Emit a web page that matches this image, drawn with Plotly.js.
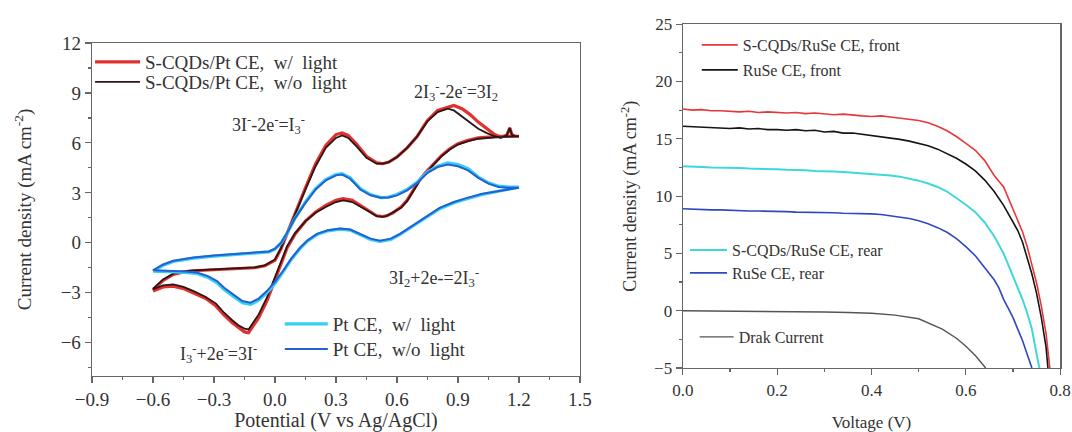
<!DOCTYPE html>
<html><head><meta charset="utf-8">
<script src="https://cdn.plot.ly/plotly-3.0.1.min.js"></script>
<style>html,body{margin:0;padding:0;background:#fff}#chart{width:1072px;height:432px}</style>
</head><body><div id="chart"></div>
<script>
// ---------- Left panel: cyclic voltammetry ----------
const cvS_V_up = [-0.6,-0.55,-0.5,-0.45,-0.4,-0.3,-0.2,-0.1,-0.05,0,0.03,0.07,0.1,0.15,0.2,0.25,0.3,0.33,0.36,0.4,0.45,0.5,0.53,0.56,0.6,0.65,0.7,0.75,0.8,0.85,0.88,0.92,0.96,1.0,1.04,1.08,1.11,1.14,1.155,1.165,1.18,1.2];
const cvS_V_lo = [1.2,1.1,1.0,0.95,0.9,0.86,0.82,0.78,0.74,0.71,0.68,0.65,0.62,0.58,0.55,0.53,0.5,0.46,0.42,0.38,0.335,0.3,0.25,0.2,0.15,0.1,0.06,0.025,0,-0.04,-0.08,-0.11,-0.13,-0.15,-0.18,-0.21,-0.25,-0.29,-0.34,-0.4,-0.45,-0.5,-0.55,-0.6];
const cvSlight_J_up = [-2.85,-2.25,-1.9,-1.75,-1.68,-1.62,-1.57,-1.5,-1.38,-1.05,-0.35,0.9,1.75,3.3,4.75,5.85,6.5,6.6,6.45,5.95,5.2,4.8,4.75,4.85,5.15,5.7,6.4,7.35,7.95,8.15,8.25,8.05,7.7,7.25,6.85,6.5,6.35,6.45,6.9,6.5,6.4,6.4];
const cvSlight_J_lo = [6.4,6.4,6.3,6.15,5.95,5.65,5.25,4.75,4.2,3.75,3.15,2.55,2.15,1.8,1.62,1.58,1.62,1.92,2.25,2.55,2.65,2.55,2.25,1.85,1.3,0.55,-0.3,-1.4,-2.2,-3.5,-4.5,-5.05,-5.4,-5.35,-5.1,-4.8,-4.35,-3.8,-3.35,-3.0,-2.75,-2.6,-2.65,-2.9];
const cvSdark_J_up = [-2.75,-2.2,-1.85,-1.72,-1.66,-1.6,-1.55,-1.48,-1.35,-1.0,-0.3,0.9,1.7,3.2,4.6,5.7,6.3,6.45,6.3,5.8,5.1,4.75,4.75,4.85,5.15,5.7,6.4,7.3,7.85,8.05,7.95,7.6,7.2,6.85,6.6,6.4,6.3,6.45,6.9,6.5,6.4,6.4];
const cvSdark_J_lo = [6.4,6.35,6.25,6.1,5.9,5.6,5.2,4.7,4.15,3.7,3.1,2.5,2.1,1.8,1.62,1.56,1.6,1.9,2.2,2.45,2.55,2.45,2.15,1.8,1.3,0.6,-0.2,-1.26,-2.0,-3.3,-4.3,-4.85,-5.2,-5.15,-4.95,-4.65,-4.2,-3.65,-3.25,-2.9,-2.65,-2.5,-2.55,-2.8];

const cvPt_V_up = [-0.6,-0.55,-0.5,-0.4,-0.3,-0.2,-0.1,-0.03,0.0,0.03,0.06,0.1,0.15,0.2,0.25,0.3,0.33,0.37,0.42,0.47,0.52,0.56,0.6,0.65,0.7,0.75,0.8,0.85,0.9,0.95,1.0,1.05,1.1,1.15,1.2];
const cvPt_V_lo = [1.2,1.15,1.09,1.02,0.945,0.88,0.81,0.76,0.71,0.66,0.615,0.57,0.517,0.47,0.42,0.37,0.32,0.26,0.207,0.16,0.123,0.08,0.04,0.0,-0.04,-0.08,-0.12,-0.16,-0.206,-0.25,-0.285,-0.33,-0.38,-0.44,-0.5,-0.55,-0.6];
const cvPtlight_J_up = [-1.7,-1.35,-1.12,-0.92,-0.8,-0.72,-0.64,-0.55,-0.38,-0.02,0.58,1.5,2.45,3.25,3.8,4.1,4.15,3.9,3.25,2.9,2.72,2.75,2.9,3.2,3.65,4.25,4.6,4.8,4.7,4.45,3.95,3.6,3.4,3.35,3.35];
const cvPtlight_J_lo = [3.35,3.22,3.1,2.9,2.65,2.4,2.05,1.65,1.25,0.85,0.5,0.2,0.08,0.2,0.5,0.76,0.82,0.72,0.5,0.1,-0.35,-1.0,-1.75,-2.45,-3.0,-3.45,-3.7,-3.6,-3.2,-2.8,-2.4,-2.08,-1.86,-1.78,-1.75,-1.72,-1.7];
const cvPtdark_J_up = [-1.65,-1.3,-1.08,-0.88,-0.76,-0.68,-0.6,-0.52,-0.35,0.0,0.6,1.5,2.4,3.2,3.75,4.05,4.1,3.85,3.2,2.85,2.7,2.72,2.85,3.15,3.6,4.2,4.55,4.7,4.6,4.35,3.9,3.55,3.35,3.3,3.3];
const cvPtdark_J_lo = [3.3,3.2,3.1,2.95,2.7,2.45,2.1,1.7,1.3,0.9,0.54,0.25,0.12,0.25,0.54,0.8,0.86,0.75,0.54,0.15,-0.3,-0.95,-1.68,-2.35,-2.9,-3.35,-3.6,-3.5,-3.1,-2.7,-2.3,-2.0,-1.8,-1.72,-1.7,-1.68,-1.65];

const cvNames = ["S-CQDs/Pt CE,&nbsp; w/&nbsp; light", "S-CQDs/Pt CE,&nbsp; w/o&nbsp; light", "Pt CE,&nbsp; w/&nbsp; light", "Pt CE,&nbsp; w/o&nbsp; light"];
const cvLabels = ["3I<sup>-</sup>-2e<sup>-</sup>=I<sub>3</sub><sup>-</sup>", "2I<sub>3</sub><sup>-</sup>-2e<sup>-</sup>=3I<sub>2</sub>", "3I<sub>2</sub>+2e-=2I<sub>3</sub><sup>-</sup>", "I<sub>3</sub><sup>-</sup>+2e<sup>-</sup>=3I<sup>-</sup>"];
const cvLabelX = [-0.03, 0.89, 0.78, -0.28];
const cvLabelY = [7.1, 9.1, -2.1, -6.65];

// ---------- Right panel: J-V curves ----------
const jvRed_V = [0,0.02,0.04,0.06,0.08,0.1,0.12,0.14,0.16,0.18,0.2,0.22,0.24,0.26,0.28,0.3,0.32,0.34,0.36,0.38,0.4,0.42,0.44,0.46,0.48,0.5,0.52,0.54,0.56,0.58,0.6,0.62,0.64,0.66,0.68,0.7,0.71,0.72,0.73,0.74,0.75,0.76,0.77,0.778];
const jvRed_J = [17.6,17.5,17.55,17.45,17.45,17.4,17.35,17.4,17.3,17.35,17.3,17.25,17.3,17.2,17.25,17.2,17.1,17.15,17.05,17.0,16.95,17.0,16.9,16.8,16.75,16.6,16.4,16.1,15.7,15.2,14.6,14.0,13.1,11.8,10.8,8.9,7.9,6.9,5.6,4.1,2.4,0.4,-2.0,-5.0];
const jvBlack_V = [0,0.02,0.04,0.06,0.08,0.1,0.12,0.14,0.16,0.18,0.2,0.22,0.24,0.26,0.28,0.3,0.32,0.34,0.36,0.38,0.4,0.42,0.44,0.46,0.48,0.5,0.52,0.54,0.56,0.58,0.6,0.62,0.64,0.66,0.68,0.7,0.71,0.72,0.73,0.74,0.75,0.76,0.77,0.774];
const jvBlack_J = [16.1,16.05,16.0,16.0,15.95,15.9,15.95,15.85,15.9,15.8,15.8,15.75,15.8,15.7,15.75,15.6,15.65,15.5,15.5,15.4,15.3,15.2,15.1,14.95,14.8,14.6,14.4,14.1,13.7,13.3,12.8,12.2,11.4,10.4,9.2,7.8,7.0,6.0,4.7,3.2,1.5,-0.6,-3.2,-5.0];
const jvCyan_V = [0,0.02,0.04,0.06,0.08,0.1,0.12,0.14,0.16,0.18,0.2,0.22,0.24,0.26,0.28,0.3,0.32,0.34,0.36,0.38,0.4,0.42,0.44,0.46,0.48,0.5,0.52,0.54,0.56,0.58,0.6,0.62,0.64,0.66,0.68,0.69,0.7,0.71,0.72,0.73,0.74,0.75,0.756];
const jvCyan_J = [12.6,12.6,12.55,12.5,12.5,12.45,12.45,12.4,12.4,12.35,12.35,12.3,12.3,12.25,12.2,12.2,12.15,12.1,12.05,12.0,11.95,11.9,11.8,11.7,11.55,11.35,11.1,10.8,10.4,9.85,9.25,8.6,7.7,6.5,5.0,4.0,3.0,2.0,1.0,-0.2,-1.6,-3.8,-5.0];
const jvBlue_V = [0,0.02,0.04,0.06,0.08,0.1,0.12,0.14,0.16,0.18,0.2,0.22,0.24,0.26,0.28,0.3,0.32,0.34,0.36,0.38,0.4,0.42,0.44,0.46,0.48,0.5,0.52,0.54,0.56,0.58,0.6,0.62,0.64,0.65,0.66,0.67,0.68,0.69,0.7,0.71,0.72,0.73,0.74];
const jvBlue_J = [8.9,8.85,8.85,8.8,8.8,8.75,8.75,8.7,8.7,8.7,8.65,8.65,8.6,8.6,8.6,8.55,8.55,8.5,8.5,8.5,8.45,8.4,8.3,8.2,8.05,7.85,7.6,7.25,6.85,6.3,5.6,4.8,3.8,3.3,2.7,2.0,1.0,0.2,-0.6,-1.6,-2.6,-3.8,-5.0];
const jvDark_V = [0,0.05,0.1,0.15,0.2,0.25,0.3,0.35,0.4,0.45,0.5,0.55,0.58,0.6,0.62,0.642];
const jvDark_J = [0,-0.01,-0.02,-0.04,-0.06,-0.08,-0.11,-0.15,-0.22,-0.38,-0.7,-1.6,-2.4,-3.1,-3.9,-5.0];
const jvNames = ["S-CQDs/RuSe CE, front", "RuSe CE, front", "S-CQDs/RuSe CE, rear", "RuSe CE, rear", "Drak Current"];

// ---------- traces ----------
const traces = [
  {x: cvS_V_up.concat(cvS_V_lo), y: cvSlight_J_up.concat(cvSlight_J_lo), name: cvNames[0], legend: 'legend', mode: 'lines', line: {color: '#e0312f', width: 3.2}, xaxis: 'x', yaxis: 'y'},
  {x: cvS_V_up.concat(cvS_V_lo), y: cvSdark_J_up.concat(cvSdark_J_lo), name: cvNames[1], legend: 'legend2', mode: 'lines', line: {color: '#2a1616', width: 1.8}, xaxis: 'x', yaxis: 'y'},
  {x: cvPt_V_up.concat(cvPt_V_lo), y: cvPtlight_J_up.concat(cvPtlight_J_lo), name: cvNames[2], legend: 'legend3', mode: 'lines', line: {color: '#33d0f2', width: 3.2}, xaxis: 'x', yaxis: 'y'},
  {x: cvPt_V_up.concat(cvPt_V_lo), y: cvPtdark_J_up.concat(cvPtdark_J_lo), name: cvNames[3], legend: 'legend4', mode: 'lines', line: {color: '#2460d4', width: 2}, xaxis: 'x', yaxis: 'y'},
  {x: jvRed_V, y: jvRed_J, name: jvNames[0], legend: 'legend5', mode: 'lines', line: {color: '#e8373a', width: 1.6}, xaxis: 'x2', yaxis: 'y2'},
  {x: jvBlack_V, y: jvBlack_J, name: jvNames[1], legend: 'legend6', mode: 'lines', line: {color: '#151515', width: 1.6}, xaxis: 'x2', yaxis: 'y2'},
  {x: jvCyan_V, y: jvCyan_J, name: jvNames[2], legend: 'legend7', mode: 'lines', line: {color: '#3fd8d8', width: 2}, xaxis: 'x2', yaxis: 'y2'},
  {x: jvBlue_V, y: jvBlue_J, name: jvNames[3], legend: 'legend8', mode: 'lines', line: {color: '#2f47c2', width: 1.6}, xaxis: 'x2', yaxis: 'y2'},
  {x: jvDark_V, y: jvDark_J, name: jvNames[4], legend: 'legend9', mode: 'lines', line: {color: '#555555', width: 1.4}, xaxis: 'x2', yaxis: 'y2'}
];

const axCommon = {
  showline: true, linecolor: '#666', linewidth: 1.3, mirror: true,
  ticks: 'outside', ticklen: 6, tickwidth: 1.2, tickcolor: '#666',
  showgrid: false, zeroline: false, automargin: false
};
function leg(x, y, size, iw) {
  return {x: x, y: y, xanchor: 'left', yanchor: 'middle', bgcolor: 'rgba(0,0,0,0)', borderwidth: 0,
          font: {size: size, color: '#333'}, itemwidth: iw, tracegroupgap: 0};
}

const annotations = cvLabels.map((t, i) => ({
  text: t, x: cvLabelX[i], y: cvLabelY[i], xref: 'x', yref: 'y', showarrow: false,
  font: {size: 18, color: '#333'}
}));

const layout = {
  width: 1072, height: 432,
  margin: {l: 0, r: 0, t: 0, b: 0},
  paper_bgcolor: '#fff', plot_bgcolor: '#fff',
  font: {family: 'Liberation Serif, Times New Roman, serif', color: '#333'},
  showlegend: true,
  xaxis: Object.assign({}, axCommon, {
    domain: [0.0858, 0.541], range: [-0.9, 1.5], tick0: 0, dtick: 0.3, tickformat: '.1f',
    minor: {dtick: 0.15, ticks: 'outside', ticklen: 3, tickcolor: '#666'},
    tickfont: {size: 19}, anchor: 'y',
    title: {text: 'Potential (V vs Ag/AgCl)', font: {size: 20}, standoff: 19}
  }),
  yaxis: Object.assign({}, axCommon, {
    domain: [0.1296, 0.9005], range: [-8, 12], tick0: 0, dtick: 3,
    minor: {dtick: 1.5, ticks: 'outside', ticklen: 3, tickcolor: '#666'},
    tickfont: {size: 19}, anchor: 'x',
    title: {text: 'Current density (mA cm<sup>-2</sup>)', font: {size: 19}, standoff: 24}
  }),
  xaxis2: Object.assign({}, axCommon, {
    domain: [0.637, 0.989], range: [0, 0.8], tick0: 0, dtick: 0.2, tickformat: '.1f',
    minor: {dtick: 0.1, ticks: 'outside', ticklen: 3, tickcolor: '#666'},
    tickfont: {size: 17}, anchor: 'y2',
    title: {text: 'Voltage (V)', font: {size: 17}, standoff: 18}
  }),
  yaxis2: Object.assign({}, axCommon, {
    domain: [0.148, 0.944], range: [-5, 25], tick0: 0, dtick: 5,
    minor: {dtick: 2.5, ticks: 'outside', ticklen: 3, tickcolor: '#666'},
    tickfont: {size: 17}, anchor: 'x2',
    title: {text: 'Current density (mA cm<sup>-2</sup>)', font: {size: 18}, standoff: 12}
  }),
  legend:  leg(0.084, 0.8565, 19, 45),
  legend2: leg(0.084, 0.810, 19, 45),
  legend3: leg(0.261, 0.250, 19, 43),
  legend4: leg(0.261, 0.192, 19, 43),
  legend5: leg(0.650, 0.896, 16, 36),
  legend6: leg(0.650, 0.838, 16, 36),
  legend7: leg(0.639, 0.4213, 16, 37),
  legend8: leg(0.639, 0.368, 16, 37),
  legend9: leg(0.648, 0.220, 16, 34),
  annotations: annotations
};

Plotly.newPlot('chart', traces, layout, {displayModeBar: false, staticPlot: true});
</script></body></html>
